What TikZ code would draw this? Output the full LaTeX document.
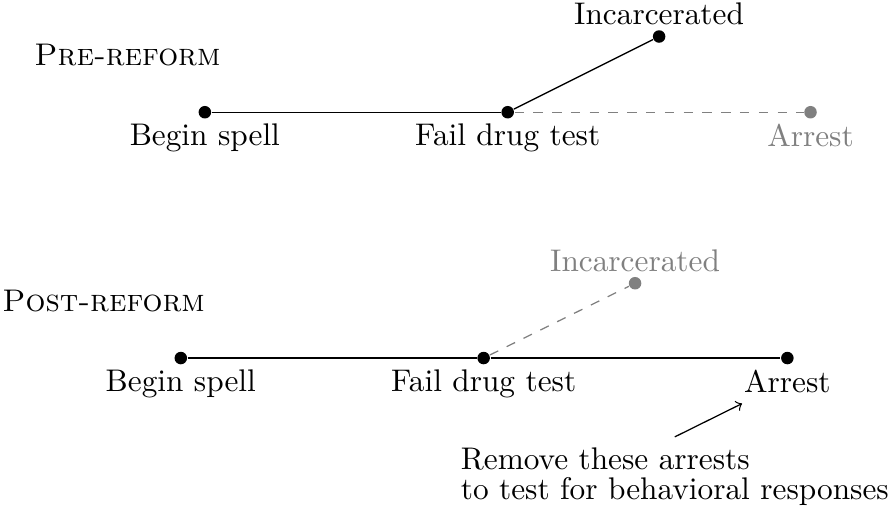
\documentclass[tikz,border=0pt]{standalone}
\usepackage{tikz}
\tikzstyle{dot} = [circle, inner sep=0pt, minimum size=4pt, fill=black]
\tikzstyle{greydot} = [dot, fill=gray]
\tikzstyle{faded} = [gray, dashed]
\tikzstyle{heading} = [anchor=base west, inner sep=0pt, font=\scshape]
\tikzstyle{note} = [anchor=north west, align=left]
\tikzstyle{arrow} = [->]

\begin{document}
\begin{tikzpicture}[label distance=-2pt]
\useasboundingbox (0,0) rectangle (9.97,5.77);
\node (node0) [heading] at (0.38, 5.04) {Pre-reform};
\node (node1) [dot, label=below:Begin spell] at (2.30, 4.51) {};
\node (node2) [dot, label=below:Fail drug test] at (5.70, 4.51) {};
\draw (node1) -- (node2);
\node (node3) [dot, label=above:Incarcerated] at (7.40, 5.36) {};
\draw (node2) -- (node3);
\node (node4) [greydot, label={[gray]below:Arrest}] at (9.10, 4.51) {};
\draw [faded] (node2) -- (node4);
\node (node5) [heading] at (0.02, 2.27) {Post-reform};
\node (node6) [dot, label=below:Begin spell] at (2.03, 1.75) {};
\node (node7) [dot, label=below:Fail drug test] at (5.43, 1.75) {};
\draw (node6) -- (node7);
\node (node8) [greydot, label={[gray]above:Incarcerated}] at (7.13, 2.59) {};
\draw [faded] (node7) -- (node8);
\node (node9) [dot, label={[name=node10]below:Arrest}] at (8.84, 1.75) {};
\draw (node7) -- (node9);
\node (node11) [note] at (5.05, 0.865) {Remove these arrests\\[-2.5pt]to test for behavioral responses};
\draw [arrow] (node11.north) -- (node10);
\end{tikzpicture}
\end{document}
